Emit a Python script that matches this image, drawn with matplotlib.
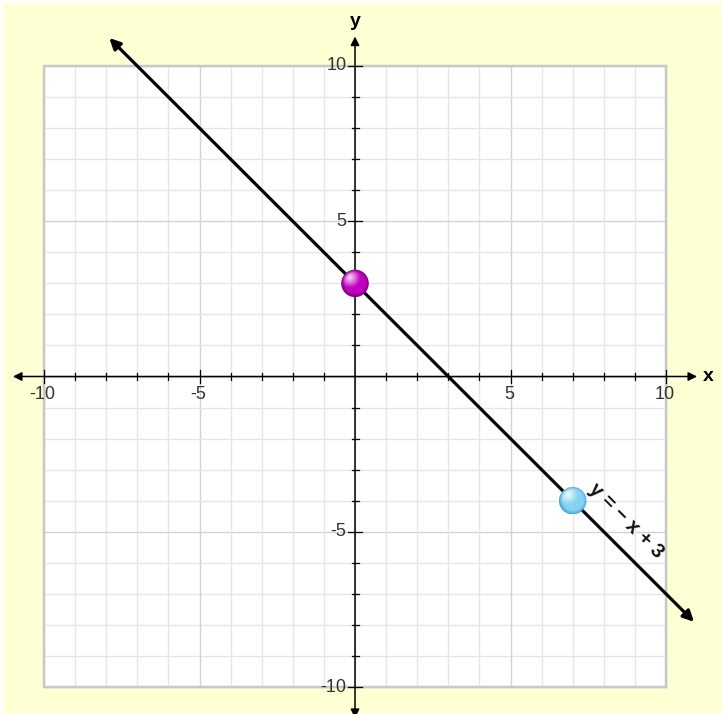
import matplotlib
matplotlib.use("Agg")
import matplotlib.pyplot as plt
import numpy as np
from matplotlib.patches import Circle, Rectangle

# data
grid_vals = list(range(-10, 11))
tick_labels_x = [-10, -5, 5, 10]
tick_labels_y = [-10, -5, 5, 10]
line_x = [-7.9, 10.9]          # ends of y = -x + 3 (arrow tips)
line_y = [10.9, -7.9]
point_x = [0, 7]
point_y = [3, -4]
point_colors = [("#c000c0", "#ffd8ff", "#7a007a"),
                ("#86d2f2", "#f2fcff", "#4aa8d6")]
equation = "y = − x + 3"

fig = plt.figure(figsize=(7.22, 7.14), dpi=100)
fig.patch.set_facecolor("white")
fig.patches.append(Rectangle((3 / 722, 0), 1, 1 - 3 / 714, transform=fig.transFigure,
                             facecolor="#ffffd4", edgecolor="none", zorder=-10))
ax = fig.add_axes([0, 0, 1, 1])
ax.set_axis_off()
ax.patch.set_alpha(0)

# plot area + grid
ax.add_patch(Rectangle((-10, -10), 20, 20, facecolor="white", edgecolor="#c8c8c8",
                       lw=1.6, zorder=1))
for v in grid_vals:
    major = v % 5 == 0
    c = "#d2d2d2" if major else "#e6e6e6"
    ax.plot([v, v], [-10, 10], color=c, lw=1.0, zorder=2)
    ax.plot([-10, 10], [v, v], color=c, lw=1.0, zorder=2)
ax.add_patch(Rectangle((-10, -10), 20, 20, facecolor="none", edgecolor="#c8c8c8",
                       lw=1.6, zorder=2.5))

# axes with arrows
arr = dict(arrowstyle="<|-|>", color="black", lw=1.1, mutation_scale=13,
           shrinkA=0, shrinkB=0)
ax.annotate("", xy=(11.0, 0), xytext=(-11.0, 0), arrowprops=arr, zorder=3)
ax.annotate("", xy=(0, 10.95), xytext=(0, -11.0), arrowprops=arr, zorder=3)

sc = 31.1  # pixels per unit
for v in grid_vals:
    if v == 0:
        continue
    L = (7 if v in tick_labels_x else 3.5) / sc
    ax.plot([v, v], [-L, L], color="black", lw=0.9, zorder=3)
    ax.plot([-L, L], [v, v], color="black", lw=0.9, zorder=3)

for v in tick_labels_x:
    ax.text(v - 0.05, -0.58, str(v), ha="center", va="center",
            fontsize=13, color="#333333", family="Liberation Sans")
for v in tick_labels_y:
    ax.text(-0.28, v, str(v), ha="right", va="center",
            fontsize=13, color="#333333", family="Liberation Sans")
ax.text(11.2, 0, "x", ha="left", va="center", fontsize=14, fontweight="bold",
        family="Liberation Sans")
ax.text(0, 11.15, "y", ha="center", va="bottom", fontsize=14, fontweight="bold",
        family="Liberation Sans")

# the line
ax.annotate("", xy=(line_x[1], line_y[1]), xytext=(line_x[0], line_y[0]),
            arrowprops=dict(arrowstyle="<|-|>", color="black", lw=2.3,
                            mutation_scale=16, shrinkA=0, shrinkB=0), zorder=4)

# shaded balls
r = 13.8 / sc
n = 80
g = np.linspace(-1, 1, n)
gx, gy = np.meshgrid(g, g)
for px, py, (base, hi, edge) in zip(point_x, point_y, point_colors):
    b = np.array(matplotlib.colors.to_rgb(base))
    h = np.array(matplotlib.colors.to_rgb(hi))
    e = np.array(matplotlib.colors.to_rgb(edge))
    d = np.sqrt((gx + 0.35) ** 2 + (gy - 0.4) ** 2)
    t = np.clip(d / 0.75, 0, 1)[..., None]
    img = h * (1 - t) + b * t
    rr = np.sqrt(gx ** 2 + gy ** 2)[..., None]
    s = np.clip((rr - 0.75) / 0.25, 0, 1)
    img = img * (1 - s) + e * s
    im = ax.imshow(img, extent=(px - r, px + r, py - r, py + r), origin="lower",
                   zorder=5, interpolation="bilinear")
    clip = Circle((px, py), r, transform=ax.transData)
    im.set_clip_path(clip)

ax.text(8.72, -4.66, equation, rotation=-45, ha="center", va="center",
        fontsize=14.5, fontweight="bold", color="#111111",
        family=["Liberation Sans", "DejaVu Sans"], zorder=6)

ax.set_aspect("auto")
ax.set_xlim(-355 / sc, (722 - 355) / sc)
ax.set_ylim((376.5 - 714) / 31.05, 376.5 / 31.05)

fig.savefig("out.png", dpi=100)
